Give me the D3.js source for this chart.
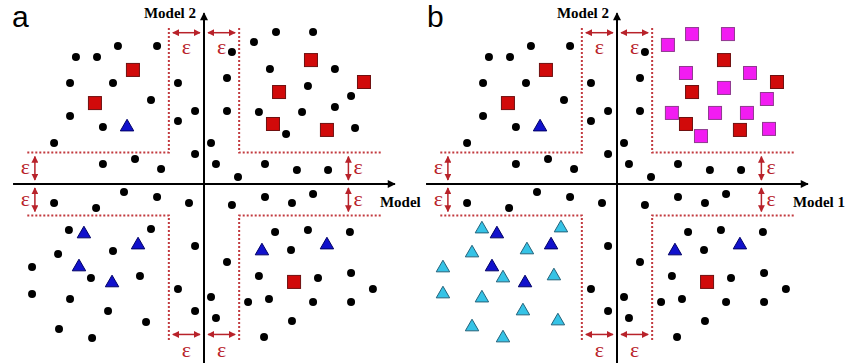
<!DOCTYPE html>
<html><head><meta charset="utf-8">
<script src="https://cdn.jsdelivr.net/npm/d3@7"></script>
<style>body{margin:0;background:#fff}svg{display:block}</style>
</head><body><svg id="c" width="845" height="363"></svg>
<script>
// ---- data (Model 1 score, Model 2 score) ----
const panelLabels = ["a", "b"];
const xAxisLabels = ["Model", "Model 1"];
const yAxisLabels = ["Model 2", "Model 2"];
const epsilon = 1.85;      // threshold half-width
const regionExtent = 9.3;  // extent of the dotted L-shaped borders

// dots common to both panels
const sharedDots = [
  [-4.53,8.12],[-2.47,8.12],[-6.74,7.47],[-5.63,7.47],[-7.05,5.94],[-4.79,5.94],[-1.37,5.94],
  [-2.79,4.94],[-7.05,4.00],[-0.47,4.29],[-1.37,3.71],[-5.32,3.35],[-7.89,2.41],[-0.47,1.76],
  [-5.32,1.18],[-3.63,1.47],[-2.26,0.88],
  [1.47,7.76],[1.21,6.24],[1.21,4.29],[0.37,2.41],[0.63,1.18],[3.21,1.18],[1.79,0.41],[4.89,0.82],[6.53,0.82],
  [-4.21,-0.47],[-2.47,-0.76],[-7.89,-1.12],[-5.68,-1.41],[-0.79,-1.12],[-0.47,-3.65],[-1.37,-6.18],[-0.47,-7.47],
  [1.47,-1.24],[3.21,-0.76],[4.63,-1.12],[5.74,-0.59],[3.74,-2.82],[5.47,-2.71],[7.68,-2.82],[4.58,-3.88],
  [1.21,-4.59],[2.89,-5.41],[6.00,-5.53],[7.74,-5.24],[8.89,-6.18],[0.37,-6.65],[2.32,-6.94],[3.42,-6.76],
  [5.74,-6.94],[7.74,-6.94],[0.63,-7.88],[4.63,-8.06],[3.16,-9.00]
];
// panel a: black dots inside the upper-right region
const upperRightDots = [
  [3.79,8.94],[5.74,8.94],[2.63,8.35],[3.47,6.76],[6.89,6.76],[5.47,5.76],[7.74,5.18],
  [2.89,4.24],[5.16,4.24],[6.89,4.53],[4.32,2.94],[7.95,3.29]
];
// panel a: black dots inside the lower-left region
const lowerLeftDots = [
  [-7.11,-2.71],[-2.79,-2.65],[-7.68,-4.12],[-4.79,-3.94],[-9.05,-4.88],[-5.95,-5.53],[-3.37,-5.41],
  [-9.05,-6.47],[-7.05,-6.76],[-5.05,-7.47],[-3.05,-8.12],[-7.63,-8.53],[-5.89,-9.06]
];
// panel b: magenta squares (upper-right region)
const magentaSquares = [
  [2.68,8.18],[3.95,8.82],[5.84,8.82],[3.63,6.53],[7.00,6.53],[5.63,5.65],[7.89,5.00],
  [2.89,4.18],[5.16,4.18],[6.84,4.18],[4.42,2.82],[8.00,3.24]
];
// panel b: cyan triangles (lower-left region)
const cyanTriangles = [
  [-7.11,-2.59],[-2.95,-2.53],[-7.63,-4.00],[-4.74,-3.82],[-9.16,-4.88],[-6.00,-5.47],[-3.32,-5.35],
  [-9.16,-6.41],[-7.11,-6.65],[-4.95,-7.41],[-3.11,-8.00],[-7.63,-8.35],[-6.00,-9.00]
];
// both panels
const redSquares = [
  [5.63,7.29],[8.42,6.00],[3.95,5.41],[3.63,3.53],[6.47,3.18],[-3.74,6.71],[-5.74,4.76],[4.74,-5.76]
];
const blueTriangles = [
  [-4.05,3.41],[-6.32,-2.88],[-3.47,-3.53],[-6.58,-4.82],[-4.84,-5.76],[3.05,-3.88],[6.47,-3.53]
];

// ---- drawing ----
const svg = d3.select("#c");
const panelShift = [0, 413];
const y = d3.scaleLinear().domain([-10, 10]).range([354, 14]);
const RED = "#b8222a";

const defs = svg.append("defs");
defs.append("marker").attr("id","ra").attr("viewBox","0 0 10 10").attr("refX",9).attr("refY",5)
  .attr("markerWidth",5).attr("markerHeight",5).attr("orient","auto-start-reverse")
  .attr("markerUnits","userSpaceOnUse").attr("markerWidth",7).attr("markerHeight",7)
  .append("path").attr("d","M0,0L10,5L0,10z").attr("fill",RED);
defs.append("marker").attr("id","ka").attr("viewBox","0 0 10 10").attr("refX",9).attr("refY",5)
  .attr("orient","auto").attr("markerUnits","userSpaceOnUse").attr("markerWidth",9).attr("markerHeight",8)
  .append("path").attr("d","M0,0L10,5L0,10z").attr("fill","#000");

panelLabels.forEach((lab, i) => {
  const x = d3.scaleLinear().domain([-10, 10]).range([14 + panelShift[i], 394 + panelShift[i]]);
  const g = svg.append("g");

  // dotted region borders (L shapes)
  const e = epsilon, R = regionExtent;
  const Ls = [
    [[-R, e], [-e, e], [-e, R]],
    [[R, e], [e, e], [e, R]],
    [[-R, -e], [-e, -e], [-e, -R]],
    [[R, -e], [e, -e], [e, -R]]
  ];
  const line = d3.line().x(d => x(d[0])).y(d => y(d[1]));
  Ls.forEach(p => g.append("path").attr("d", line(p)).attr("fill","none")
    .attr("stroke","#c23a3f").attr("stroke-width",2).attr("stroke-dasharray","2,2"));

  // axes
  g.append("line").attr("x1", x(-10.05)).attr("x2", x(10.05)).attr("y1", y(0)).attr("y2", y(0))
    .attr("stroke","#000").attr("stroke-width",2).attr("marker-end","url(#ka)");
  g.append("line").attr("x1", x(0)).attr("x2", x(0)).attr("y1", y(-10.7)).attr("y2", y(10.05))
    .attr("stroke","#000").attr("stroke-width",2).attr("marker-end","url(#ka)");

  // epsilon arrows
  const ins = 4;
  const hArrows = [[-e, 0, 8.9, 1], [0, e, 8.9, 1], [-e, 0, -8.85, -1], [0, e, -8.85, -1]];
  hArrows.forEach(a => {
    g.append("line").attr("x1", x(a[0]) + ins).attr("x2", x(a[1]) - ins).attr("y1", y(a[2])).attr("y2", y(a[2]))
      .attr("stroke", RED).attr("stroke-width",1.5)
      .attr("marker-start","url(#ra)").attr("marker-end","url(#ra)");
    g.append("text").attr("x", (x(a[0]) + x(a[1])) / 2).attr("y", y(a[2]) + (a[3] > 0 ? 21 : 23))
      .attr("text-anchor","middle").attr("font-family","Liberation Serif, serif").attr("font-size",22)
      .attr("fill", RED).text("ε");
  });
  const vArrows = [[-8.9, 0, e, -1], [-8.9, -e, 0, -1], [7.6, 0, e, 1], [7.6, -e, 0, 1]];
  vArrows.forEach(a => {
    g.append("line").attr("x1", x(a[0])).attr("x2", x(a[0])).attr("y1", y(a[1]) - ins).attr("y2", y(a[2]) + ins)
      .attr("stroke", RED).attr("stroke-width",1.5)
      .attr("marker-start","url(#ra)").attr("marker-end","url(#ra)");
    g.append("text").attr("x", x(a[0]) + (a[3] > 0 ? 5 : -5)).attr("y", (y(a[1]) + y(a[2])) / 2 + 6)
      .attr("text-anchor", a[3] > 0 ? "start" : "end").attr("font-family","Liberation Serif, serif")
      .attr("font-size",22).attr("fill", RED).text("ε");
  });

  // axis labels
  g.append("text").attr("x", x(0) - 8).attr("y", 18).attr("text-anchor","end")
    .attr("font-family","Liberation Serif, serif").attr("font-weight","bold").attr("font-size",15).text(yAxisLabels[i]);
  g.append("text").attr("x", x(9.26)).attr("y", 207)
    .attr("font-family","Liberation Serif, serif").attr("font-weight","bold").attr("font-size",15).text(xAxisLabels[i]);
  // panel letter
  g.append("text").attr("x", 12 + panelShift[i] + (i ? 2 : 0)).attr("y", 27)
    .attr("font-family","Liberation Sans, Arial, sans-serif").attr("font-size",30).text(lab);

  // marks
  const dots = i === 0 ? sharedDots.concat(upperRightDots, lowerLeftDots) : sharedDots;
  g.selectAll(".dot").data(dots).join("circle").attr("class","dot")
    .attr("cx", d => x(d[0])).attr("cy", d => y(d[1])).attr("r", 4).attr("fill","#000");

  const sq = 13;
  if (i === 1) {
    g.selectAll(".mag").data(magentaSquares).join("rect").attr("class","mag")
      .attr("x", d => x(d[0]) - sq/2).attr("y", d => y(d[1]) - sq/2).attr("width", sq).attr("height", sq)
      .attr("fill","#f21cf2").attr("stroke","#8e3a8e").attr("stroke-width",1);
  }
  g.selectAll(".red").data(redSquares).join("rect").attr("class","red")
    .attr("x", d => x(d[0]) - sq/2).attr("y", d => y(d[1]) - sq/2).attr("width", sq).attr("height", sq)
    .attr("fill","#d10a0a").attr("stroke","#6e1010").attr("stroke-width",1);

  const tri = d3.symbol().type(d3.symbolTriangle).size(78);
  if (i === 1) {
    g.selectAll(".cy").data(cyanTriangles).join("path").attr("class","cy")
      .attr("d", tri).attr("transform", d => `translate(${x(d[0])},${y(d[1]) + 1})`)
      .attr("fill","#35c3e6").attr("stroke","#24627a").attr("stroke-width",1);
  }
  g.selectAll(".bl").data(blueTriangles).join("path").attr("class","bl")
    .attr("d", tri).attr("transform", d => `translate(${x(d[0])},${y(d[1]) + 1})`)
    .attr("fill","#1111cc").attr("stroke","#000066").attr("stroke-width",1);
});
</script></body></html>
